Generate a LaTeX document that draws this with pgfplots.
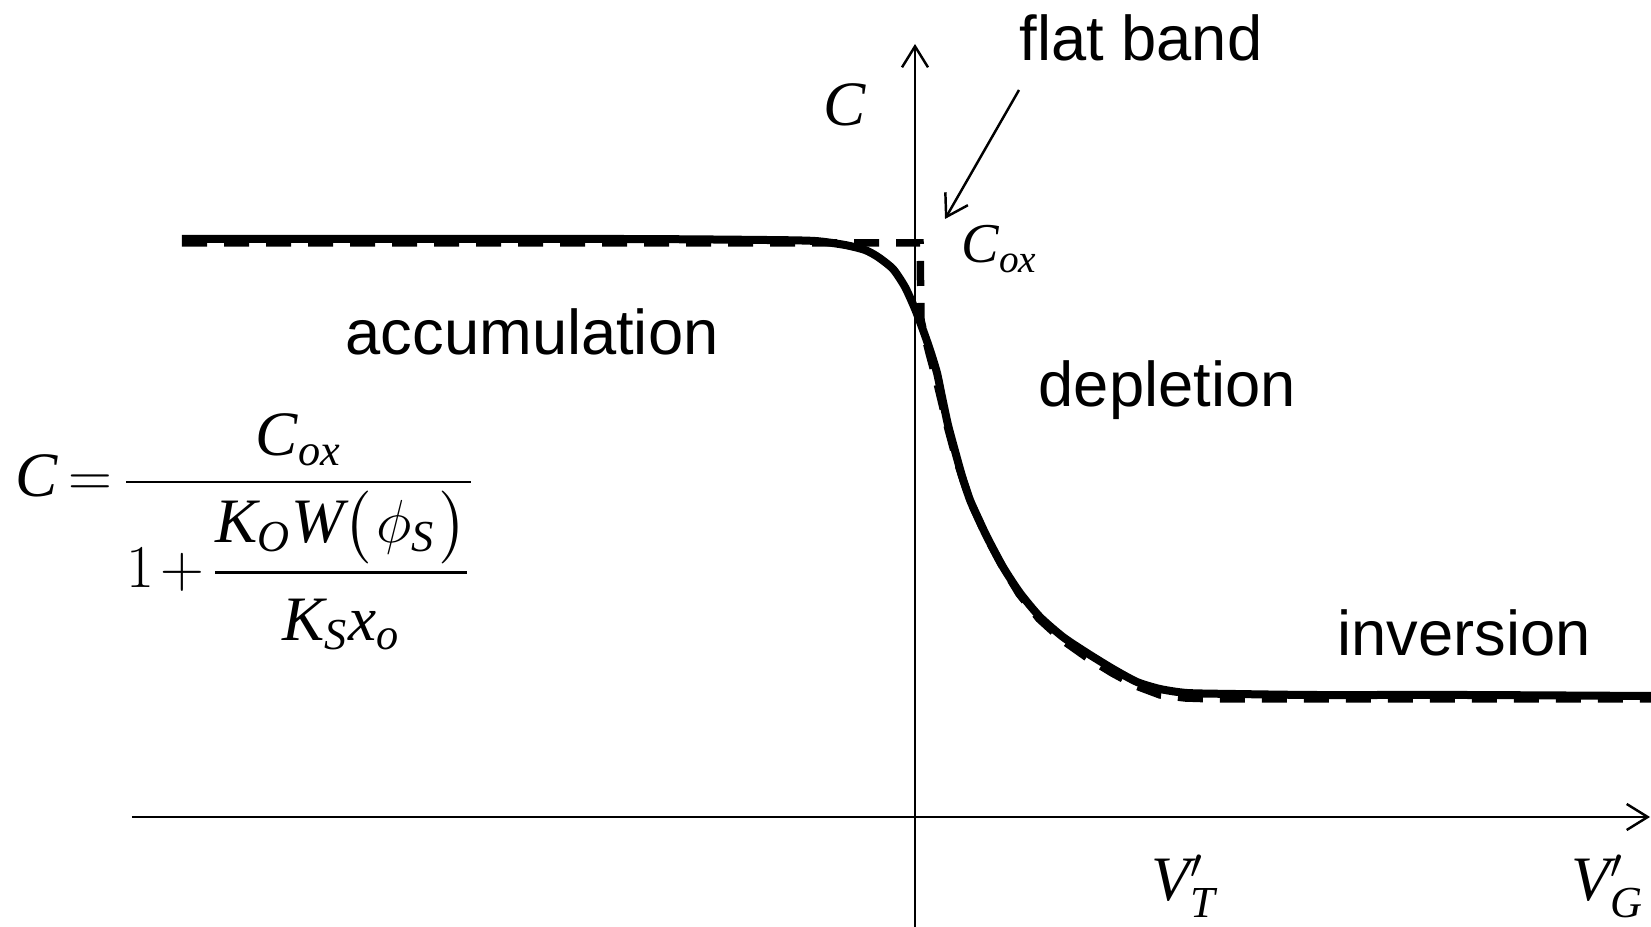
\documentclass[border=0pt]{standalone}
\usepackage{amsmath}
\usepackage{fontspec}
\usepackage{pgfplots}
\pgfplotsset{compat=1.18}
\usetikzlibrary{arrows.meta}

\setmainfont{Liberation Sans}
\newfontfamily\tnr{Liberation Serif}[NFSSFamily=libserif]
% Times-like math letters and digits
\DeclareSymbolFont{letters}{TU}{libserif}{m}{it}
\DeclareSymbolFont{operators}{TU}{libserif}{m}{n}
\DeclareSymbolFont{lmletters}{OML}{cmm}{m}{it}
\DeclareMathSymbol{\phi}{\mathord}{lmletters}{"1E}
% delimiters of a fixed height
\newcommand\fixl[1]{\mathopen{\hbox{$\left#1\vcenter to 21pt{}\right.$}}}
\newcommand\fixr[1]{\mathclose{\hbox{$\left.\vcenter to 21pt{}\right#1$}}}

\tikzset{lbl/.style={inner sep=0pt, anchor=base west, font=\fontsize{18}{21}\selectfont}}

% solid: measured C-V curve; dashed: idealised curve
\pgfplotstableread{
x y
-733 578
-300 578
-150 577
-100 576
-70 572
-50 567
-37 560
-22 548
-10 530
0 508
8 487
15 467
22 444
27 420
33 392
40 366
47 341
55 317
64 297
72 280
88 250
105 224
125 200
148 180
172 164
198 148
222 135
245 128
272 124
320 123
400 122
550 122
736 121
}\realcv

\pgfplotstableread{
x y
-733 574
5 574
6 497
10 480
14 464
21 438
27 413
33 388
40 362
48 337
56 314
71 281
87 251
104 223
124 198
147 177
171 160
197 144
221 131
245 122
270 119
300 118
736 118
}\idealcv

\begin{document}
\begin{tikzpicture}
\begin{axis}[
  name=ax,
  scale only axis,
  width=151.8mm, height=88.3mm,
  xmin=-783, xmax=735, ymin=-110, ymax=773,
  axis lines=middle,
  axis line style={line width=0.7pt,
    -{Straight Barb[length=2.1mm,width=2.6mm,line width=0.7pt]}},
  xtick=\empty, ytick=\empty,
  clip=false,
]
\addplot[black, line width=0.8mm, smooth, tension=0.4] table[x=x,y=y] {\realcv};
\addplot[black, line width=0.75mm, dash pattern=on 2.5mm off 1.7mm] table[x=x,y=y] {\idealcv};

\node[lbl] at (axis cs:104,756) {flat band};
\draw[line width=0.7pt, -{Straight Barb[length=2.1mm,width=2.6mm,line width=0.7pt]}]
  (axis cs:104,727) -- (axis cs:30,598);
\node[lbl] at (axis cs:-570,462) {accumulation};
\node[lbl] at (axis cs:123,410) {depletion};
\node[lbl] at (axis cs:422,161) {inversion};

\node[lbl] at (axis cs:-92,691) {$C$};
\node[lbl, font=\fontsize{16}{19}\selectfont] at (axis cs:46,554) {$C_{ox}$};
\node[lbl] at (axis cs:236,-84) {$V_T'$};
\node[lbl] at (axis cs:656,-84) {$V_G'$};

\node[lbl] at (axis cs:-900,320)
  {$\thickmuskip=3mu plus 2mu\medmuskip=2mu plus 1mu
   \displaystyle C=\frac{C_{ox}}{1+\dfrac{K_O W\fixl(\phi_S\fixr)}{\rule{0pt}{17pt}K_S x_o}}$};
\end{axis}
\pgfresetboundingbox
\path ([xshift=-13.2mm]ax.south west) rectangle ([xshift=0.1mm,yshift=4.4mm]ax.north east);
\end{tikzpicture}
\end{document}
